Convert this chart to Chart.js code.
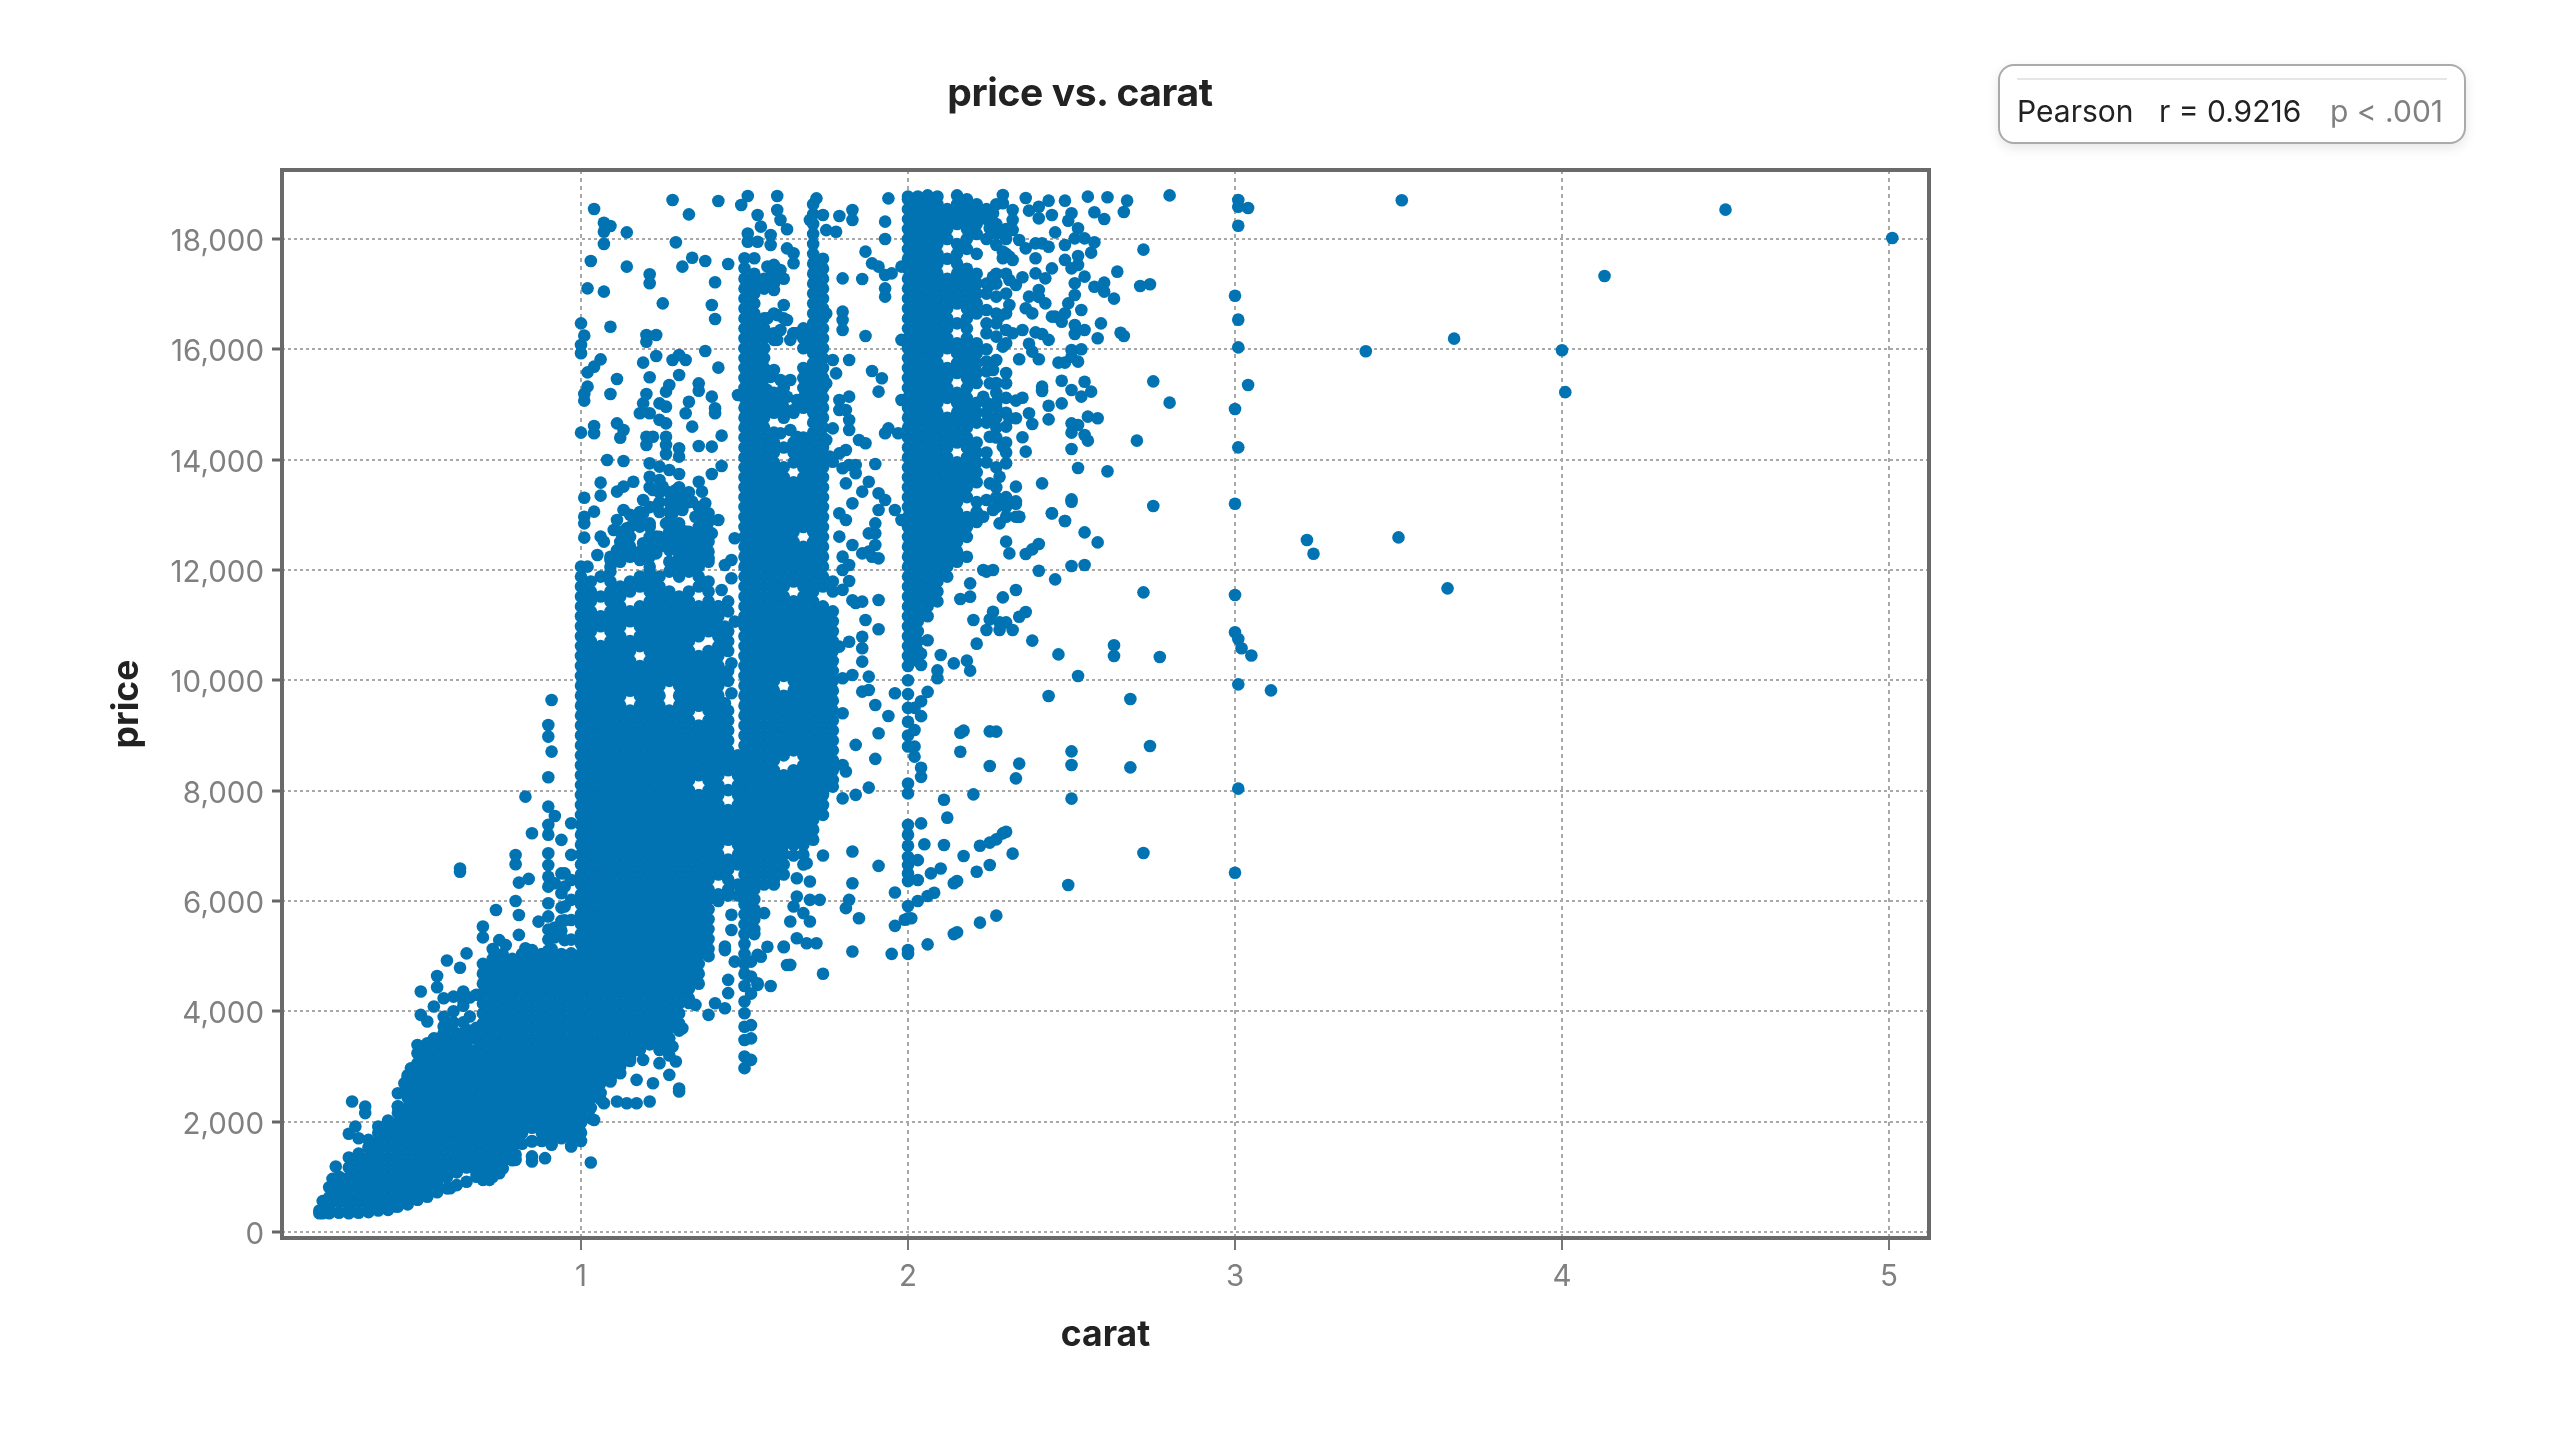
<!DOCTYPE html>
<html>
<head>
<meta charset="utf-8">
<title>price vs. carat</title>
<script src="https://cdn.jsdelivr.net/npm/chart.js@4"></script>
<style>
  html, body { margin: 0; background: #fff; }
  #wrap { position: relative; width: 2560px; height: 1440px; font-family: Inter, sans-serif; overflow: hidden; }
  #myChart { position: absolute; left: 0; top: 0; }
  #title { position: absolute; left: 780px; width: 600px; top: 69px; text-align: center; font-size: 39px; line-height: 46px; font-weight: 700; color: #222; letter-spacing: -0.4px; }
  #stats { position: absolute; left: 1998px; top: 64px; width: 464px; height: 76px; border: 2px solid #aaa; border-radius: 16px; background: #fff; box-shadow: 0 4px 12px rgba(0,0,0,0.10); font-size: 30px; }
  #stats .rule { position: absolute; left: 17px; right: 17px; top: 12px; height: 2px; background: #e6e6e6; }
  #stats span { position: absolute; top: 27px; line-height: 36px; white-space: nowrap; color: #222; }
</style>
</head>
<body>
<div id="wrap">
  <canvas id="myChart" width="2560" height="1440"></canvas>
  <div id="title">price vs. carat</div>
  <div id="stats">
    <div class="rule"></div>
    <span style="left:17px">Pearson</span>
    <span style="left:159px">r = 0.9216</span>
    <span style="left:330px;color:#808080">p &lt; .001</span>
  </div>
</div>
<script>
const xTicks = [1, 2, 3, 4, 5];
const yTicks = [0, 2000, 4000, 6000, 8000, 10000, 12000, 14000, 16000, 18000];

// the blue mass is solid in the picture, single dots can't be read there,
// so these columns are typed in just to cover the area it covers
const solidCarats = [0.2, 0.21, 0.23, 0.26, 0.29, 0.32, 0.35, 0.38, 0.41, 0.44, 0.47, 0.5, 0.53, 0.56, 0.59, 0.62, 0.65, 0.68];
const solidPrices = [
  [340, 390],
  [340, 400, 560],
  [340, 450, 630, 810],
  [350, 540, 720, 900, 1000],
  [340, 450, 630, 810, 990, 1170, 1350],
  [350, 540, 720, 900, 1080, 1260, 1420],
  [360, 450, 630, 810, 990, 1170, 1350, 1530],
  [390, 540, 720, 900, 1080, 1260, 1440, 1620, 1800],
  [400, 450, 630, 810, 990, 1170, 1350, 1530, 1710, 1890, 2020],
  [460, 540, 720, 900, 1080, 1260, 1440, 1620, 1800, 1980, 2160, 2280],
  [500, 630, 810, 990, 1170, 1350, 1530, 1710, 1890, 2070, 2250, 2430, 2610, 2790, 2840],
  [590, 720, 900, 1080, 1260, 1440, 1620, 1800, 1980, 2160, 2340, 2520, 2700, 2880, 3060, 3240],
  [640, 810, 990, 1170, 1350, 1530, 1710, 1890, 2070, 2250, 2430, 2610, 2790, 2970, 3150, 3330, 3420],
  [720, 900, 1080, 1260, 1440, 1620, 1800, 1980, 2160, 2340, 2520, 2700, 2880, 3060, 3240, 3420, 3500],
  [790, 990, 1170, 1350, 1530, 1710, 1890, 2070, 2250, 2430, 2610, 2790, 2970, 3150, 3330, 3510, 3690],
  [850, 1080, 1260, 1440, 1620, 1800, 1980, 2160, 2340, 2520, 2700, 2880, 3060, 3240, 3420, 3600],
  [910, 1170, 1350, 1530, 1710, 1890, 2070, 2250, 2430, 2610, 2790, 2970, 3150, 3330, 3400],
  [1000, 1080, 1260, 1440, 1620, 1800, 1980, 2160, 2340, 2520, 2700, 2880, 3060, 3240, 3300],
];

const wedgeCarats = [0.58, 0.61, 0.64, 0.66, 0.68];
const wedgePrices = [
  [3600, 3900],
  [3800, 4000],
  [3600, 3800, 4100, 4200],
  [3650, 4250],
  [3500, 3700, 4300],
];

const midCarats = [0.7, 0.73, 0.76, 0.79, 0.82, 0.85, 0.88, 0.91, 0.94, 0.97];
const midPrices = [
  [950, 1080, 1260, 1440, 1620, 1800, 1980, 2160, 2340, 2520, 2700, 2880, 3060, 3240, 3420, 3600, 3780, 3960, 4140, 4320, 4500, 4680, 4860],
  [1000, 1170, 1350, 1530, 1710, 1890, 2070, 2250, 2430, 2610, 2790, 2970, 3150, 3330, 3510, 3690, 3870, 4050, 4230, 4410, 4590, 4770, 4950, 5130],
  [1150, 1260, 1440, 1620, 1800, 1980, 2160, 2340, 2520, 2700, 2880, 3060, 3240, 3420, 3600, 3780, 3960, 4140, 4320, 4500, 4680, 4860, 5040],
  [1300, 1350, 1530, 1710, 1890, 2070, 2250, 2430, 2610, 2790, 2970, 3150, 3330, 3510, 3690, 3870, 4050, 4230, 4410, 4590, 4770, 4950],
  [1600, 1800, 1980, 2160, 2340, 2520, 2700, 2880, 3060, 3240, 3420, 3600, 3780, 3960, 4140, 4320, 4500, 4680, 4860, 5040],
  [1650, 1890, 2070, 2250, 2430, 2610, 2790, 2970, 3150, 3330, 3510, 3690, 3870, 4050, 4230, 4410, 4590, 4770, 4950, 5110],
  [1650, 1800, 1980, 2160, 2340, 2520, 2700, 2880, 3060, 3240, 3420, 3600, 3780, 3960, 4140, 4320, 4500, 4680, 4860, 5040],
  [1600, 1710, 1890, 2070, 2250, 2430, 2610, 2790, 2970, 3150, 3330, 3510, 3690, 3870, 4050, 4230, 4410, 4590, 4770, 4950, 5130],
  [1700, 1800, 1980, 2160, 2340, 2520, 2700, 2880, 3060, 3240, 3420, 3600, 3780, 3960, 4140, 4320, 4500, 4680, 4860, 5040],
  [1560, 1710, 1890, 2070, 2250, 2430, 2610, 2790, 2970, 3150, 3330, 3510, 3690, 3870, 4050, 4230, 4410, 4590, 4770, 4950, 5050],
];

const bandOneCarats = [1, 1.03, 1.06, 1.09, 1.12, 1.15, 1.18, 1.21, 1.24, 1.27, 1.3, 1.33, 1.36, 1.39, 1.42, 1.45, 1.48];
const bandOnePrices = [
  [1650, 1800, 1980, 2160, 2340, 2520, 2700, 2880, 3060, 3240, 3420, 3600, 3780, 3960, 4140, 4320, 4500, 4680, 4860, 5040, 5220, 5400, 5580, 5760, 5940, 6120, 6300, 6480, 6660, 6840, 7020, 7200, 7380, 7560, 7740, 7920, 8100, 8280, 8460, 8640, 8820, 9000, 9180, 9360, 9540, 9720, 9900, 10080, 10260, 10440, 10620, 10800, 10980, 11160, 11340, 11520, 11700, 11880, 12060],
  [2060, 2250, 2430, 2610, 2790, 2970, 3150, 3330, 3510, 3690, 3870, 4050, 4230, 4410, 4590, 4770, 4950, 5130, 5310, 5490, 5670, 5850, 6030, 6210, 6390, 6570, 6750, 6930, 7110, 7290, 7470, 7650, 7830, 8010, 8190, 8370, 8550, 8730, 8910, 9090, 9270, 9450, 9630, 9810, 9990, 10170, 10350, 10530, 10710, 10890, 11070, 11250, 11430, 11610, 11790],
  [2400, 2520, 2700, 2880, 3060, 3240, 3420, 3600, 3780, 3960, 4140, 4320, 4500, 4680, 4860, 5040, 5220, 5400, 5580, 5760, 5940, 6120, 6300, 6480, 6660, 6840, 7020, 7200, 7380, 7560, 7740, 7920, 8100, 8280, 8460, 8640, 8820, 9000, 9180, 9360, 9540, 9720, 9900, 10080, 10260, 10440, 10620, 10980, 11160, 11520, 11880],
  [2750, 2790, 2970, 3150, 3330, 3510, 3690, 3870, 4050, 4230, 4410, 4590, 4770, 4950, 5130, 5310, 5490, 5670, 5850, 6030, 6210, 6390, 6570, 6750, 6930, 7110, 7290, 7470, 7650, 7830, 8010, 8190, 8370, 8550, 8730, 8910, 9090, 9270, 9450, 9630, 9810, 9990, 10170, 10350, 10530, 10710, 10890, 11070, 11250, 11430, 11610, 11790, 11970],
  [3000, 3060, 3240, 3420, 3600, 3780, 3960, 4140, 4320, 4500, 4680, 4860, 5040, 5220, 5400, 5580, 5760, 5940, 6120, 6300, 6480, 6660, 6840, 7020, 7200, 7380, 7560, 7740, 7920, 8100, 8280, 8460, 8640, 8820, 9000, 9180, 9360, 9540, 9720, 9900, 10080, 10260, 10440, 10620, 10800, 10980, 11160, 11340, 11520, 11700],
  [3100, 3150, 3330, 3510, 3690, 3870, 4050, 4230, 4410, 4590, 4770, 4950, 5130, 5310, 5490, 5670, 5850, 6030, 6210, 6390, 6570, 6750, 6930, 7110, 7290, 7470, 7650, 7830, 8010, 8190, 8370, 8550, 8730, 8910, 9090, 9270, 9450, 9810, 9990, 10170, 10350, 10530, 10710, 11070, 11250, 11610, 11790],
  [3300, 3420, 3600, 3780, 3960, 4140, 4320, 4500, 4680, 4860, 5040, 5220, 5400, 5580, 5760, 5940, 6120, 6300, 6480, 6660, 6840, 7020, 7200, 7380, 7560, 7740, 7920, 8100, 8280, 8460, 8640, 8820, 9000, 9180, 9360, 9540, 9720, 9900, 10080, 10260, 10620, 10800, 10980, 11160, 11340, 11700, 11880],
  [3400, 3510, 3690, 3870, 4050, 4230, 4410, 4590, 4770, 4950, 5130, 5310, 5490, 5670, 5850, 6030, 6210, 6390, 6570, 6750, 6930, 7110, 7290, 7470, 7650, 7830, 8010, 8190, 8370, 8550, 8730, 8910, 9090, 9270, 9450, 9630, 9810, 9990, 10170, 10350, 10530, 10710, 10890, 11070, 11250, 11430, 11610, 11790, 11970],
  [3300, 3420, 3600, 3780, 3960, 4140, 4320, 4500, 4680, 4860, 5040, 5220, 5400, 5580, 5760, 5940, 6120, 6300, 6480, 6660, 6840, 7020, 7200, 7380, 7560, 7740, 7920, 8100, 8280, 8460, 8640, 8820, 9000, 9180, 9360, 9540, 9720, 9900, 10080, 10260, 10440, 10620, 10800, 10980, 11160, 11340, 11520, 11700, 11880],
  [3200, 3330, 3510, 3690, 3870, 4050, 4230, 4410, 4590, 4770, 4950, 5130, 5310, 5490, 5670, 5850, 6030, 6210, 6390, 6570, 6750, 6930, 7110, 7290, 7470, 7650, 7830, 8010, 8190, 8370, 8550, 8730, 8910, 9090, 9270, 9450, 9990, 10170, 10350, 10530, 10710, 10890, 11070, 11250, 11430, 11610, 11970],
  [3650, 3780, 3960, 4140, 4320, 4500, 4680, 4860, 5040, 5220, 5400, 5580, 5760, 5940, 6120, 6300, 6480, 6660, 6840, 7020, 7200, 7380, 7560, 7740, 7920, 8100, 8280, 8460, 8640, 8820, 9000, 9180, 9360, 9540, 9720, 9900, 10080, 10260, 10440, 10620, 10800, 10980, 11160, 11340, 11520, 11880],
  [4150, 4230, 4410, 4590, 4770, 4950, 5130, 5310, 5490, 5670, 5850, 6030, 6210, 6390, 6570, 6750, 6930, 7110, 7290, 7470, 7650, 7830, 8010, 8190, 8370, 8550, 8730, 8910, 9090, 9270, 9450, 9630, 9810, 9990, 10170, 10350, 10530, 10710, 10890, 11070, 11250, 11430, 11610, 11970],
  [4500, 4680, 4860, 5040, 5220, 5400, 5580, 5760, 5940, 6120, 6300, 6480, 6660, 6840, 7020, 7200, 7380, 7560, 7740, 7920, 8280, 8460, 8640, 8820, 9000, 9180, 9540, 9720, 9900, 10080, 10260, 10440, 10800, 10980, 11160, 11340, 11700, 11880],
  [5000, 5130, 5310, 5490, 5670, 5850, 6030, 6210, 6390, 6570, 6750, 6930, 7110, 7290, 7470, 7650, 7830, 8010, 8190, 8370, 8550, 8730, 8910, 9090, 9270, 9450, 9630, 9810, 9990, 10170, 10350, 10530, 10890, 11070, 11250, 11430, 11610, 11790],
  [6000, 6120, 6480, 6660, 6840, 7020, 7200, 7380, 7560, 7740, 7920, 8100, 8280, 8460, 8640, 8820, 9000, 9180, 9360, 9540, 9720, 9900, 10080, 10260, 10440, 10620, 10800, 10980, 11160, 11340],
  [6100, 6210, 6390, 6570, 6750, 7110, 7290, 7470, 7650, 8010, 8370, 8550, 8730, 8910, 9090, 9270, 9450, 9990, 10170, 10530, 10710, 10890, 11250, 11430],
  [6100, 6300, 6660, 6840, 7020, 7200, 7380, 7560, 7740, 7920, 8100, 8280, 8460, 8640],
];

// the mass just above 12,000 in the first band, gaps left where the picture has them
const bandOneTopCarats = [1.09, 1.12, 1.15, 1.18, 1.21, 1.24, 1.27, 1.3, 1.33, 1.36, 1.39];
const bandOneTopPrices = [
  [12060, 12240],
  [12150, 12330, 12510, 12690],
  [12240, 12420, 12600, 12780, 13000],
  [12330, 12870, 13050],
  [12060, 12240, 12420, 12600, 12780, 13140, 13500],
  [12420, 12600, 13050, 13230, 13410],
  [12150, 12510, 12690, 12870, 13050, 13230, 13410],
  [12060, 12240, 12420, 12600, 12780, 13140, 13320, 13500],
  [12150, 12330, 12510, 12690, 13230, 13410],
  [12060, 12240, 12420, 12600, 12780, 12960, 13140],
  [12150, 12330, 12510, 12690, 12870],
];

const bandTwoCarats = [1.5, 1.53, 1.56, 1.59, 1.62, 1.65, 1.68, 1.71, 1.74, 1.77];
const bandTwoPrices = [
  [4680, 4860, 5040, 5220, 5400, 5580, 5760, 5940, 6120, 6300, 6480, 6660, 6840, 7020, 7200, 7380, 7560, 7740, 7920, 8100, 8280, 8460, 8640, 8820, 9000, 9180, 9360, 9540, 9720, 9900, 10080, 10260, 10440, 10620, 10800, 10980, 11160, 11340, 11520, 11700, 11880, 12060, 12240, 12420, 12600, 12780, 12960, 13140, 13320, 13500, 13680, 13860, 14040, 14220, 14400, 14580, 14760, 14940, 15120, 15300, 15480, 15660, 15840, 16020, 16200, 16380, 16560, 16740, 16920, 17100, 17280, 17470, 17650],
  [5400, 5490, 5670, 5850, 6030, 6210, 6390, 6570, 6750, 6930, 7110, 7290, 7470, 7650, 7830, 8010, 8190, 8370, 8550, 8730, 8910, 9090, 9270, 9450, 9630, 9810, 9990, 10170, 10350, 10530, 10710, 10890, 11070, 11250, 11430, 11610, 11790, 11970, 12150, 12330, 12510, 12690, 12870, 13050, 13230, 13410, 13590, 13770, 13950, 14130, 14310, 14490, 14670, 14850, 15030, 15210, 15390, 15570, 15750, 15930, 16110, 16290, 16470, 16650, 16830, 17010, 17190, 17370, 17650],
  [6300, 6480, 6660, 6840, 7020, 7200, 7380, 7560, 7740, 7920, 8100, 8280, 8460, 8640, 8820, 9000, 9180, 9360, 9540, 9720, 9900, 10080, 10260, 10440, 10620, 10800, 10980, 11160, 11340, 11520, 11700, 11880, 12060, 12240, 12420, 12600, 12780, 12960, 13140, 13320, 13500, 13680, 13860, 14040, 14220, 14400, 14580, 14760, 14940, 15120, 15300, 15480, 15660, 15840, 16020, 16200, 16380, 16560, 17100, 17280],
  [6300, 6390, 6570, 6750, 6930, 7110, 7290, 7470, 7650, 7830, 8010, 8190, 8370, 8550, 8730, 8910, 9090, 9270, 9450, 9630, 9810, 9990, 10170, 10350, 10530, 10710, 10890, 11070, 11250, 11430, 11610, 11790, 11970, 12150, 12330, 12510, 12690, 12870, 13050, 13230, 13410, 13590, 13770, 13950, 14130, 14310, 14490, 14850, 15030, 15210, 16290, 16650, 17190, 17370],
  [6480, 6660, 6840, 7020, 7200, 7380, 7560, 7740, 7920, 8100, 8280, 8640, 8820, 9000, 9180, 9360, 9540, 9720, 10080, 10260, 10440, 10620, 10800, 10980, 11160, 11340, 11520, 11700, 11880, 12060, 12240, 12420, 12600, 12780, 12960, 13140, 13320, 13500, 13680, 13860, 14220, 14760, 14940, 15120, 15300, 16560, 17280],
  [7020, 7110, 7290, 7470, 7650, 7830, 8010, 8190, 8370, 8730, 8910, 9090, 9270, 9450, 9630, 9810, 9990, 10170, 10350, 10530, 10710, 10890, 11070, 11250, 11430, 11790, 11970, 12150, 12330, 12510, 12690, 12870, 13050, 13230, 13410, 13590, 13950, 14130, 14310, 14850, 16290],
  [6660, 6840, 7020, 7200, 7380, 7560, 7740, 7920, 8100, 8280, 8460, 8640, 8820, 9000, 9180, 9360, 9540, 9720, 9900, 10080, 10260, 10440, 10620, 10800, 10980, 11160, 11340, 11520, 11700, 11880, 12060, 12240, 12420, 12780, 12960, 13140, 13320, 13500, 13680, 13860, 14040, 14220, 14400, 14940, 15120, 15300, 15480, 15660, 16020, 16200, 16380],
  [7110, 7290, 7470, 7650, 7830, 8010, 8190, 8370, 8550, 8730, 8910, 9090, 9270, 9450, 9630, 9810, 9990, 10170, 10350, 10530, 10710, 10890, 11070, 11250, 11430, 11610, 11790, 11970, 12150, 12330, 12510, 12690, 12870, 13050, 13230, 13410, 13590, 13770, 13950, 14130, 14310, 14490, 14670, 14850, 15030, 15210, 15390, 15570, 15750, 15930, 16110, 16290, 16470, 16650, 16830, 17010, 17190, 17370, 17550, 17730, 17910, 18090, 18270, 18450, 18630],
  [7560, 7740, 7920, 8100, 8280, 8460, 8640, 8820, 9000, 9180, 9360, 9540, 9720, 9900, 10080, 10260, 10440, 10620, 10800, 10980, 11160, 11340, 11700, 11880, 12060, 12240, 12420, 12600, 12780, 12960, 13140, 13320, 13500, 13680, 13860, 14040, 14220, 14400, 14580, 14760, 14940, 15120, 15300, 15480, 15660, 15840, 16020, 16200, 16380, 16560, 16740, 16920, 17100, 17280, 17460, 17640],
  [8370, 8550, 8730, 8910, 9090, 9270, 9450, 9630, 9810, 9990, 10170, 10350, 10530, 10710, 10890, 11070, 11250, 11610, 11790],
];

const bandThreeCarats = [2, 2.03, 2.06, 2.09, 2.12, 2.15, 2.18, 2.21, 2.24, 2.27, 2.3];
const bandThreePrices = [
  [10260, 10440, 10620, 10800, 10980, 11160, 11340, 11520, 11700, 11880, 12060, 12240, 12420, 12600, 12780, 12960, 13140, 13320, 13500, 13680, 13860, 14040, 14220, 14400, 14580, 14760, 14940, 15120, 15300, 15480, 15660, 15840, 16020, 16200, 16380, 16560, 16740, 16920, 17100, 17280, 17460, 17640, 17820, 18000, 18180, 18360, 18540, 18720, 18770],
  [10350, 10530, 10710, 10890, 11070, 11250, 11430, 11610, 11790, 11970, 12150, 12330, 12510, 12690, 12870, 13050, 13230, 13410, 13590, 13770, 13950, 14130, 14310, 14490, 14670, 14850, 15030, 15210, 15390, 15570, 15750, 15930, 16110, 16290, 16470, 16650, 16830, 17010, 17190, 17370, 17550, 17730, 17910, 18090, 18270, 18450, 18630, 18770],
  [11160, 11340, 11520, 11700, 11880, 12060, 12240, 12420, 12600, 12780, 12960, 13140, 13320, 13500, 13680, 13860, 14040, 14220, 14400, 14580, 14760, 14940, 15120, 15300, 15480, 15660, 15840, 16020, 16200, 16380, 16560, 16740, 16920, 17100, 17280, 17460, 17640, 17820, 18000, 18180, 18360, 18540, 18720, 18790],
  [11430, 11610, 11790, 11970, 12150, 12330, 12510, 12690, 12870, 13050, 13230, 13410, 13590, 13770, 13950, 14130, 14310, 14490, 14670, 14850, 15030, 15210, 15390, 15570, 15750, 15930, 16110, 16290, 16470, 16650, 16830, 17010, 17190, 17370, 17550, 17730, 17910, 18090, 18270, 18450, 18630, 18770],
  [11880, 12060, 12240, 12420, 12600, 12780, 12960, 13140, 13320, 13500, 13680, 13860, 14040, 14220, 14400, 14580, 14760, 15120, 15300, 15480, 15660, 16020, 16200, 16380, 16560, 16740, 16920, 17100, 17280, 17640, 18000, 18180, 18360, 18540],
  [12150, 12330, 12510, 12690, 12870, 13050, 13230, 13410, 13590, 13770, 13950, 14310, 14490, 14670, 14850, 15030, 15210, 15570, 15750, 15930, 16110, 16470, 16830, 17010, 17190, 17370, 17550, 17730, 17910, 18270, 18450, 18630, 18790],
  [12240, 12600, 12780, 12960, 13320, 13500, 13680, 13860, 14040, 14220, 14400, 14580, 14760, 14940, 15120, 15300, 15480, 15660, 15840, 16020, 16200, 16380, 16560, 16740, 16920, 17100, 17280, 17460, 17820, 18000, 18180, 18360, 18540, 18720],
  [12870, 13050, 13230, 13590, 13770, 13950, 14130, 14310, 14670, 14850, 15030, 15390, 15570, 15750, 15930, 16110, 16650, 16830, 17010, 17190, 17370, 17730, 18090, 18270, 18450, 18630],
  [13950, 14130, 14670, 14850, 15030, 15600, 15780, 16000, 16290, 16470, 17010, 17190, 18000, 18360, 18540],
  [13140, 13320, 13500, 13860, 14400, 14580, 14760, 15030, 15210, 15390, 16470, 16650, 17190, 17370, 18090, 18270, 18630],
  [13140, 13320, 14130, 14310, 14850, 15120, 15570, 16110, 16650, 17010, 17370, 17730, 18000, 18180],
];

// dots that can still be told apart, below 12,000
const lowerCarats = [0.24, 0.25, 0.29, 0.3, 0.31, 0.32, 0.34, 0.35, 0.38, 0.4, 0.43, 0.44, 0.46, 0.48, 0.5, 0.51, 0.53, 0.55, 0.56, 0.58, 0.59, 0.6, 0.61, 0.63, 0.64, 0.65, 0.66, 0.7, 0.72, 0.74, 0.75, 0.76, 0.77, 0.8, 0.81, 0.83, 0.84, 0.85, 0.87, 0.89, 0.9, 0.91, 0.92, 0.94, 0.95, 0.97];
const lowerPrices = [
  [963], [1187], [1780], [2365], [1912], [1700], [2155, 2275], [1670], [1912], [1912], [462], [2275, 2515], [2697], [2967],
  [583, 3390], [3935, 4358], [3815], [3510, 4086], [4436, 4640], [3724, 4237], [4920], [794], [4267], [4790, 6530, 6590],
  [4358], [3542, 5050], [3905], [945, 5340, 5536], [945], [5837], [1065, 5290], [1156], [5200], [1307, 1400, 6000, 6665, 6834],
  [1700, 5385, 5746, 6333], [5143, 7891], [6400], [1277, 1370, 1640, 7227], [5626], [1338],
  [5100, 5300, 5480, 5720, 5960, 6260, 6440, 6650, 6865, 7200, 7380, 7711, 8243, 8980, 9191],
  [1580, 8708, 9644], [5340, 5520, 6320, 7541], [5460, 5640, 5880, 6140, 6500, 7107], [5290, 5650, 5900, 6260, 6500],
  [1550, 5300, 5656, 6020, 6380, 6835, 7408],
];

const edgeCarats = [1.01, 1.02, 1.03, 1.04, 1.05, 1.06, 1.07, 1.09, 1.11, 1.12, 1.14, 1.17, 1.19, 1.21, 1.22, 1.24, 1.27, 1.28, 1.29, 1.3, 1.31, 1.35, 1.39, 1.41, 1.42, 1.43, 1.44, 1.45, 1.46, 1.47, 1.5, 1.52, 1.54, 1.55, 1.56, 1.57, 1.58, 1.62, 1.63, 1.64, 1.65, 1.66, 1.68, 1.69, 1.7, 1.72, 1.73, 1.74, 1.77];
const edgePrices = [
  [12586, 12845, 12966], [12060], [1260], [2030, 13057], [12272], [12604], [2334, 12513], [2727], [2365], [2878], [2334], [2334, 2757, 3300], [3120], [2365], [2697], [3060], [2848], [3360], [3090], [2546, 2600], [3693], [4116], [3935], [4146, 9764], [11335], [10127, 11637],
  [4056, 5110, 5175, 9583, 10973], [4330, 4570], [5475, 5750, 9764, 10308, 11850], [4900, 11063], [2970, 3180, 3480, 3720, 3965, 4177, 4460], [3120, 3510, 3750, 4320, 4630, 4900], [4480, 4510, 5023], [4990], [5780], [5170], [4460],
  [5160, 5175], [4840], [4842, 5627], [5900, 6823], [5325, 6080, 6413], [5780], [5235, 6684], [5627, 6020, 6353], [5235], [6020], [4680, 6823, 7953], [8073, 8194],
];

const gapCarats = [1.79, 1.8, 1.81, 1.82, 1.83, 1.84, 1.85, 1.86, 1.87, 1.88, 1.89, 1.9, 1.91, 1.94, 1.95, 1.96, 1.99, 2, 2.01, 2.02, 2.03, 2.04, 2.05, 2.06, 2.07, 2.08, 2.09, 2.1, 2.11, 2.12, 2.14, 2.15, 2.16, 2.17, 2.18, 2.19, 2.2, 2.21, 2.22, 2.23, 2.24, 2.25, 2.26, 2.27, 2.28, 2.29, 2.3, 2.31, 2.32, 2.33, 2.34, 2.36, 2.38, 2.4, 2.43, 2.44, 2.45, 2.46, 2.48, 2.49, 2.5, 2.52, 2.54, 2.58, 2.63, 2.68, 2.72, 2.74, 2.75, 2.77];
const gapPrices = [
  [10610], [7860, 8466, 9402, 10037, 11640, 12000], [5870, 8346], [6020, 10700, 11800], [5084, 6322, 6896, 10097, 11450], [7923, 8829, 11400], [5688], [9795, 10339, 10580, 10790, 11426, 12300], [11094], [8055, 9825, 10067], [12240], [8575, 9553], [6636, 9040, 10925, 11456], [9354], [5041], [5549, 6153, 9765], [5660],
  [5041, 5110, 5685, 5910, 6360, 6500, 6650, 6800, 7000, 7200, 7380, 7950, 8130, 8800, 9000, 9250, 9500, 9750, 10000], [5688], [8616, 8800, 9100, 9500], [6000, 6380, 6740], [7407, 8250, 8416, 9350, 9620, 10277, 10480], [7027], [5214, 6090, 9790, 10725], [6500], [6150], [10036, 10180], [6590, 10458], [7015, 7836], [7510], [5400, 6320, 10307], [5432, 6362], [8706, 9050, 11474], [6815, 9087], [10356], [10175, 11516, 11757], [7933, 11093], [6530, 10664], [5607, 7000],
  [12000], [10912, 11970], [6652, 7057, 8446, 9075, 11105], [11244, 12000], [5734, 7117, 9070], [10912, 11050], [7226, 11504], [7256, 11050, 12513], [12300], [6858, 10912], [8223, 11637, 13200], [8490, 11153, 12966], [11238, 12290], [10720, 12374], [11987, 12470], [9715], [13026], [11830], [10470], [12887], [6290], [7855, 8465, 8712, 12072, 13238], [10078], [12090, 12682], [12500], [10440, 10634], [8422, 9660], [6870, 11594], [8810], [13160], [10422],
];

// sparse dots above 12,000
const upperLeftCarats = [1, 1.01, 1.02, 1.03, 1.04, 1.06, 1.07, 1.08, 1.09, 1.1, 1.11, 1.12, 1.13, 1.14, 1.15, 1.16, 1.18, 1.19, 1.2, 1.21, 1.22, 1.23, 1.24, 1.25, 1.26, 1.27, 1.28, 1.29, 1.3, 1.31, 1.32, 1.33, 1.34, 1.35, 1.36, 1.37, 1.38, 1.39, 1.4, 1.41, 1.42, 1.43, 1.44, 1.45, 1.46, 1.47, 1.48];
const upperLeftPrices = [
  [14489, 15927, 16078, 16470], [13310, 15069, 15190, 16247], [15323, 15582, 17105], [17600], [14477, 14610, 15685, 18543], [13347, 13583, 15818], [17045, 17909, 18130, 18295], [13994], [12180, 15190, 16410, 18235], [12725], [12360, 12905, 13420, 14658, 15462], [14398], [13087, 13510, 13975, 14537], [12544, 12755, 17498, 18120], [12300], [12966, 13600],
  [12180, 12785, 14840], [12483, 13027, 13268, 15020, 15758], [14265, 14416, 15190, 16138, 16260], [12845, 13691, 13933, 14840, 15492, 17196, 17359], [13450, 14416], [12300, 12604, 13148, 15879, 16260], [13631, 13873, 14720, 15020], [13510, 16833], [12845, 14102, 14265, 14416, 14658, 14960, 15232], [12362, 13812, 15353], [13027, 13268, 15806, 18706], [12604, 13450, 17939], [12845, 13740, 14054, 14205, 15534, 15897], [13087, 13390, 17498], [12241, 12695, 14840, 15806], [15050, 18446], [13238, 14598, 17660], [12543, 12966], [13600, 14247, 15250, 15383], [12392, 12664, 13420], [13208, 15969, 17600], [12211, 13027], [12664, 13740, 14235, 15142, 16803], [14840, 14930, 16549, 17214], [12906, 15667, 18688], [13885, 14435], [12090], [17546], [12180], [12574], [15172],
];

const upperMidCarats = [1.49, 1.51, 1.54, 1.55, 1.57, 1.58, 1.59, 1.6, 1.61, 1.62, 1.63, 1.64, 1.65, 1.66, 1.7, 1.72, 1.74, 1.75, 1.76, 1.77, 1.78, 1.79, 1.8, 1.81, 1.82, 1.83, 1.84, 1.85, 1.86, 1.87, 1.88, 1.89, 1.9, 1.91, 1.92, 1.93, 1.94, 1.95, 1.96, 1.97, 1.98];
const upperMidPrices = [
  [18616], [17950, 18100, 18779], [17950, 18434], [18223], [12060, 12600, 12850, 13330, 14110, 14900, 15260, 16560, 17500], [12300, 13810, 14300, 15500, 17317, 17890, 18072], [13027, 13570, 15020, 15625, 16170, 17075, 17530], [12785, 15200, 16170, 16620, 18525, 18779], [12030, 12545, 13270, 13810, 14477, 15444, 16350, 17437, 18344], [12240, 13027, 13510, 14840, 16803], [15140, 16530, 17830, 18175], [12725, 14537, 15444, 16170], [12060, 12420, 13450, 14900, 16290, 17560, 17740], [12240, 13027, 13994, 14416, 15080, 16290],
  [18344], [18736], [18434], [14356, 15383, 16650, 18160], [14054], [13963, 14567, 15806], [15564, 18130], [12604, 13027, 14114, 14900, 15080, 18416], [12241, 13843, 16350, 16530, 16682, 17286], [12906, 13570, 14175, 14900], [12090, 13903, 14537, 14718, 15142, 15806], [12453, 13208, 18344, 18525], [13752, 13903], [14356], [13420, 17274], [14296, 16240, 17770], [12332, 12664, 13600], [15607, 17558], [12453, 12664, 12845, 13921], [12211, 13087, 13390, 15232, 17498], [15474], [13268, 14477, 16954, 17105, 17347, 18000, 18314], [14567, 18736], [17377], [13087], [14477], [12906, 15081, 16170, 17498],
];

const upperRightCarats = [2.23, 2.24, 2.25, 2.26, 2.27, 2.28, 2.29, 2.3, 2.31, 2.32, 2.33, 2.34, 2.35, 2.36, 2.37, 2.38, 2.39, 2.4, 2.41, 2.42, 2.43, 2.44, 2.45, 2.46, 2.47, 2.48, 2.49, 2.5, 2.51, 2.52, 2.53, 2.54, 2.55, 2.56, 2.57, 2.58, 2.59, 2.6, 2.61, 2.63, 2.64, 2.65, 2.66, 2.67, 2.7, 2.71, 2.72, 2.74, 2.75, 2.8];
const upperRightPrices = [
  [12966, 15140], [13268, 16712], [13570, 14416, 15383, 17165, 18193], [13087, 15625, 17316, 18465], [14942, 15806, 16229, 16954, 17890], [12845, 13691, 16592, 18162], [13208, 14235, 16048, 17649, 17770, 18646, 18797], [12966, 13933, 14598, 15383, 16350], [14749, 16803, 17256, 17679], [16290, 17619, 18162, 18344, 18525], [12966, 13244, 13510, 14749, 15069, 17165], [12966, 15820, 17981], [14405, 15123, 16350, 17305], [14145, 16743, 17830, 18742], [14840, 16100, 16954, 18513], [14646, 15957, 16652], [16307, 17377, 17650, 17920], [15820, 16950, 17075, 18374, 18585], [13570, 15243, 15323, 16277, 17920], [16833, 17286], [14730, 14978, 16170, 17860, 18694], [13027, 16592, 17467, 18434], [16592, 18120], [15758], [15020, 15431, 16500], [12888, 15758, 16652, 17620, 17890, 18694], [16833, 18330],
  [13280, 14193, 14489, 14658, 15262, 15866, 15987, 17467, 18465], [16277, 16440, 16984, 17196, 18011], [13848, 14628, 15776, 17528, 17690, 18193], [15142, 16000, 16712], [14447, 15413, 16350, 17317, 18011], [14344, 14779, 18767], [15232, 17752], [17135, 17940, 18483], [14749, 16200], [16470], [17045, 17208, 18362], [13788, 18755], [16918], [17407], [16300], [16240, 18490], [18694], [14344], [17147], [17806], [17178], [15419], [15033, 18790],
];

// the few far right dots, read one by one
const farCarats = [3, 3.01, 3.02, 3.04, 3.05, 3.11, 3.22, 3.24, 3.4, 3.5, 3.51, 3.65, 3.67, 4, 4.01, 4.13, 4.5, 5.01];
const farPrices = [
  [6513, 10870, 11546, 13201, 14917, 16970], [8036, 9927, 10750, 14223, 16035, 16537, 18240, 18585, 18706], [10580], [15354, 18560], [10450], [9818], [12543], [12295], [15964], [12590], [18701], [11667], [16193], [15984], [15223], [17329], [18531], [18018],
];

const groups = [
  [solidCarats, solidPrices],
  [wedgeCarats, wedgePrices],
  [midCarats, midPrices],
  [bandOneCarats, bandOnePrices],
  [bandOneTopCarats, bandOneTopPrices],
  [bandTwoCarats, bandTwoPrices],
  [bandThreeCarats, bandThreePrices],
  [lowerCarats, lowerPrices],
  [edgeCarats, edgePrices],
  [gapCarats, gapPrices],
  [upperLeftCarats, upperLeftPrices],
  [upperMidCarats, upperMidPrices],
  [upperRightCarats, upperRightPrices],
  [farCarats, farPrices],
];
const points = [];
groups.forEach(([carats, prices]) => {
  carats.forEach((c, i) => (prices[i] || []).forEach(p => points.push({ x: c, y: p })));
});

const framePlugin = {
  id: 'frame',
  beforeDatasetsDraw(chart) {
    const a = chart.chartArea;
    const ctx = chart.ctx;
    ctx.save();
    ctx.strokeStyle = '#6a6a6a';
    ctx.lineWidth = 4;
    ctx.strokeRect(a.left, a.top, a.right - a.left, a.bottom - a.top);
    ctx.restore();
  }
};

const ctx1 = document.getElementById("myChart");
const myChart1 = new Chart(ctx1, {
  type: 'scatter',
  data: {
    datasets: [{
      data: points,
      backgroundColor: '#0173b2',
      borderWidth: 0,
      pointRadius: 6.3,
      clip: false,
    }]
  },
  plugins: [framePlugin],
  options: {
    responsive: false,
    devicePixelRatio: 1,
    animation: false,
    events: [],
    layout: { padding: { left: 0, right: 631, top: 170, bottom: 0 } },
    plugins: {
      legend: { display: false },
      title: { display: false },
      tooltip: { enabled: false },
    },
    scales: {
      x: {
        type: 'linear',
        min: 0.0856,
        max: 5.1223,
        afterFit(scale) { scale.height = 202; },
        afterBuildTicks(scale) { scale.ticks = xTicks.map(v => ({ value: v })); },
        grid: { color: '#a8a8a8', lineWidth: 2, tickColor: '#777', tickWidth: 2, tickLength: 12, drawTicks: true, tickBorderDash: [] },
        border: { display: false, dash: [4, 4] },
        ticks: { font: { family: 'Inter', size: 29.5 }, color: '#808080', padding: 9, maxRotation: 0 },
        title: { display: true, text: 'carat', color: '#222', font: { family: 'Inter', size: 35.5, weight: '700' }, padding: { top: 0, bottom: 83 } },
      },
      y: {
        type: 'linear',
        min: -109,
        max: 19250,
        afterFit(scale) { scale.width = 282; },
        afterBuildTicks(scale) { scale.ticks = yTicks.map(v => ({ value: v })); },
        grid: { color: '#a8a8a8', lineWidth: 2, tickColor: '#666', tickWidth: 3, tickLength: 10, tickBorderDash: [] },
        border: { display: false, dash: [3, 3] },
        ticks: { font: { family: 'Inter', size: 29.5 }, color: '#808080', padding: 8, labelOffset: 3, callback: v => v.toLocaleString('en-US') },
        title: { display: true, text: 'price', color: '#222', font: { family: 'Inter', size: 35.5, weight: '700' }, padding: { top: 106, bottom: 0 } },
      },
    },
  },
});
</script>
</body>
</html>
